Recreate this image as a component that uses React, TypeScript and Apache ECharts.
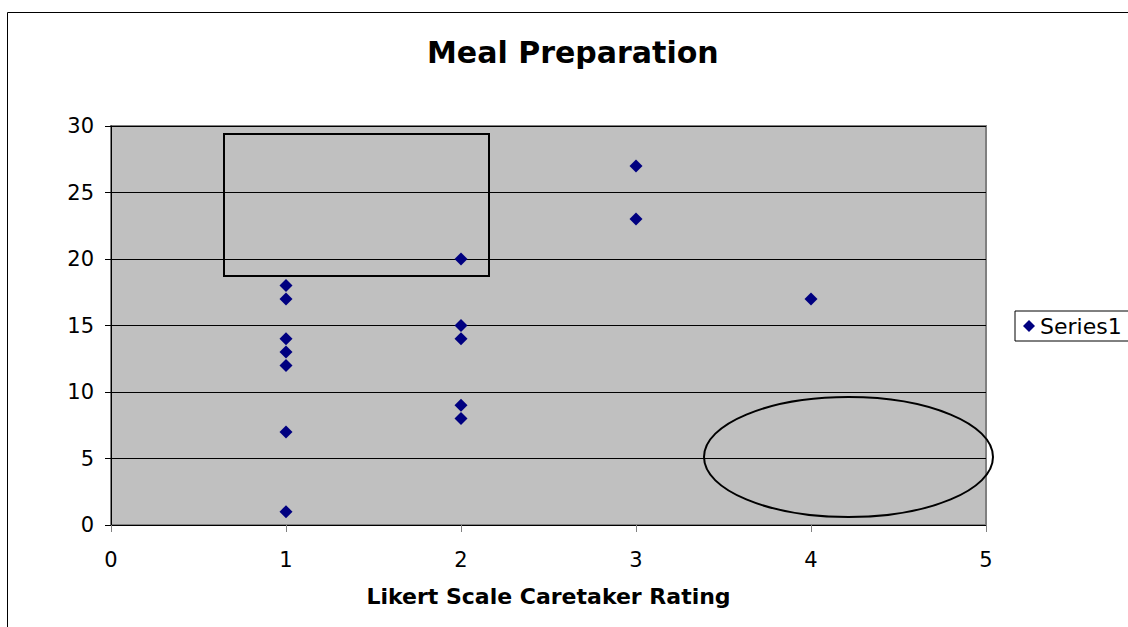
import React, { useEffect, useRef } from "react";
import * as echarts from "echarts";

const title = "Meal Preparation";
const xAxisName = "Likert Scale Caretaker Rating";
const seriesName = "Series1";
const ratings = [1, 1, 1, 1, 1, 1, 1, 2, 2, 2, 2, 2, 3, 3, 4];
const values = [18, 17, 14, 13, 12, 7, 1, 20, 15, 14, 9, 8, 27, 23, 17];
const xMin = 0, xMax = 5, xStep = 1;
const yMin = 0, yMax = 30, yStep = 5;

const FONT = "DejaVu Sans";

export default function App() {
  const ref = useRef<HTMLDivElement>(null);
  useEffect(() => {
    const chart = echarts.init(ref.current!, null, { renderer: "svg" });
    const points = ratings.map((r, i) => [r, values[i]]);
    chart.setOption({
      animation: false,
      backgroundColor: "#ffffff",
      title: {
        text: title,
        left: 427,
        top: 37,
        padding: 0,
        textStyle: { fontFamily: FONT, fontSize: 30, fontWeight: "bold", color: "#000" },
      },
      legend: {
        left: 1015,
        top: 311,
        orient: "vertical",
        padding: [4, 10, 4, 8],
        borderColor: "#000",
        borderWidth: 1,
        itemWidth: 12,
        itemHeight: 12,
        itemGap: 5,
        icon: "diamond",
        textStyle: { fontFamily: FONT, fontSize: 22, color: "#000" },
        data: [seriesName],
      },
      grid: {
        left: 111,
        top: 126,
        right: 142,
        bottom: 102,
        show: true,
        backgroundColor: "#c0c0c0",
        borderColor: "#808080",
        borderWidth: 2,
      },
      xAxis: {
        type: "value",
        min: xMin,
        max: xMax,
        interval: xStep,
        name: xAxisName,
        nameLocation: "middle",
        nameGap: 60,
        nameTextStyle: { fontFamily: FONT, fontSize: 22, fontWeight: "bold", color: "#000" },
        axisLine: { show: true, onZero: false, lineStyle: { color: "#000", width: 1 } },
        axisTick: { show: true, inside: false, length: 7, lineStyle: { color: "#808080" } },
        axisLabel: { fontFamily: FONT, fontSize: 21, color: "#000", margin: 24 },
        splitLine: { show: false },
      },
      yAxis: {
        type: "value",
        min: yMin,
        max: yMax,
        interval: yStep,
        axisLine: { show: true, onZero: false, lineStyle: { color: "#000", width: 1 } },
        axisTick: { show: true, inside: false, length: 6, lineStyle: { color: "#000" } },
        axisLabel: { fontFamily: FONT, fontSize: 21, color: "#000", margin: 17 },
        splitLine: { show: true, lineStyle: { color: "#000", width: 1 } },
      },
      series: [
        {
          name: seriesName,
          type: "scatter",
          symbol: "diamond",
          symbolSize: 13,
          itemStyle: { color: "#000080", opacity: 1 },
          data: points,
        },
      ],
      graphic: [
        {
          type: "rect",
          z: -10,
          silent: true,
          shape: { x: 7.5, y: 12.5, width: 1300, height: 800 },
          style: { fill: "none", stroke: "#000", lineWidth: 1 },
        },
        {
          type: "rect",
          z: 100,
          silent: true,
          shape: { x: 224, y: 134, width: 265, height: 142 },
          style: { fill: "none", stroke: "#000", lineWidth: 2 },
        },
        {
          type: "ellipse",
          z: 100,
          silent: true,
          shape: { cx: 848.5, cy: 457, rx: 144.5, ry: 60 },
          style: { fill: "none", stroke: "#000", lineWidth: 2 },
        },
      ],
    });
    return () => chart.dispose();
  }, []);
  return (
    <div
      ref={ref}
      style={{ position: "fixed", left: 0, top: 0, width: 1128, height: 627 }}
    />
  );
}
